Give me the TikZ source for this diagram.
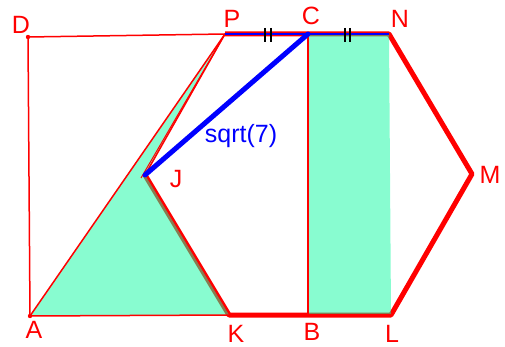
\documentclass[tikz,border=0pt]{standalone}
\usepackage{fontspec}
\setmainfont{Liberation Sans}
\definecolor{gfill}{RGB}{17,249,161}
\definecolor{gred}{RGB}{255,0,0}
\definecolor{gblue}{RGB}{0,0,255}
\begin{document}
\begin{tikzpicture}[x=1pt,y=-1pt,
  lbl/.style={text=gred,font=\fontsize{25}{30}\selectfont,inner sep=0pt},
  thinred/.style={draw=gred,line width=1.5pt,line join=round},
  thickred/.style={draw=gred,line width=5pt,line join=round},
  greenfill/.style={fill=gfill,fill opacity=0.5},
  tick/.style={draw=black,line width=2pt}]
\useasboundingbox (0,0) rectangle (505,347);
% points
\coordinate (D) at (28,37);
\coordinate (A) at (30,316);
\coordinate (P) at (225,34);
\coordinate (C) at (308,34);
\coordinate (N) at (389,34);
\coordinate (M) at (472,174);
\coordinate (L) at (391,315);
\coordinate (B) at (308,315);
\coordinate (K) at (229,315);
\coordinate (J) at (145,175);
\coordinate (J2) at (141,178);
% hexagon
\path[thickred] (P) -- (N) -- (M) -- (L) -- (K) -- (J);
% green regions
\path[greenfill] (A) -- (P) -- (J) -- (K) -- cycle;
\path[greenfill] (C) -- (N) -- (L) -- (B) -- cycle;
% thin red lines
\path[thinred] (A) -- (D) -- (P);
\path[thinred] (A) -- (P);
\path[thinred] (A) -- (K);
\path[thinred] (J) -- (P);
\path[draw=gred,line width=1pt] (J2) -- (P);
\path[thinred] (C) -- (B) -- (L);
% blue
\path[draw=gblue,line width=2pt] (P) -- (N);
\path[draw=gblue,line width=5pt,line cap=round] (J) -- (C);
% ticks
\path[tick] (265,28) -- (265,42) (270.5,28) -- (270.5,42);
\path[tick] (344.5,28) -- (344.5,42) (350,28) -- (350,42);
% dots
\fill[gred] (D) circle (2.2);
\fill[gred] (A) circle (2.2);
% labels
\node[lbl] (lD) at (21,25) {D};
\node[lbl] (lP) at (232,19) {P};
\node[lbl] (lC) at (311,16) {C};
\node[lbl] (lN) at (400,19) {N};
\node[lbl] (lM) at (490,175) {M};
\node[lbl] (lJ) at (176,179) {J};
\node[lbl] (lA) at (34,330) {A};
\node[lbl] (lK) at (236,334) {K};
\node[lbl] (lB) at (312,332) {B};
\node[lbl] (lL) at (392,334) {L};
\node[lbl,text=gblue] (lsq) at (241,136) {sqrt(7)};
\end{tikzpicture}
\end{document}
